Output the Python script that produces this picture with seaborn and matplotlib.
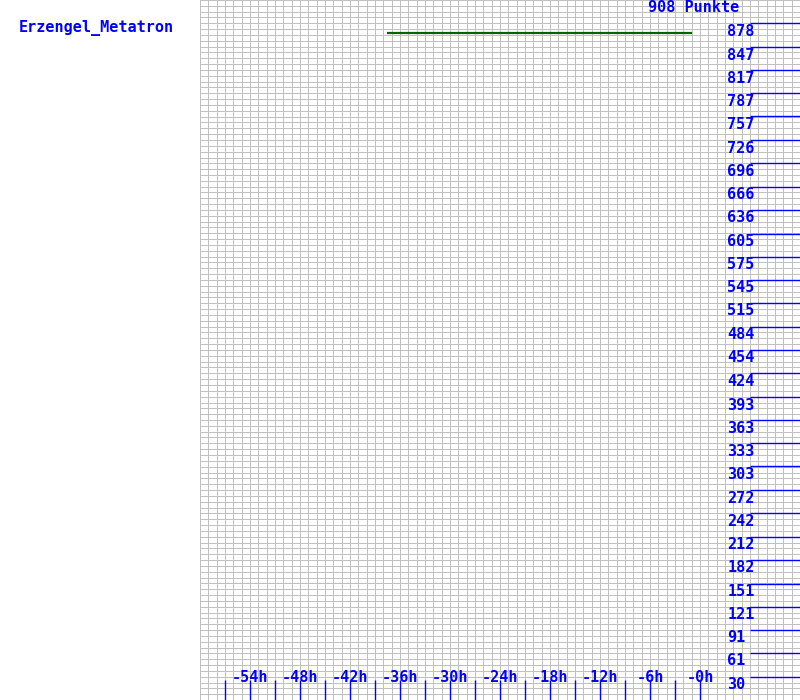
import numpy as np
import pandas as pd
import matplotlib
matplotlib.use("Agg")
import matplotlib.pyplot as plt
import seaborn as sns

# ---- data ----
player = "Erzengel_Metatron"
total_label = "908 Punkte"
max_points = 908
hours = [-37.55, -0.95]
points = [865, 865]
x_tick_hours = [-54, -48, -42, -36, -30, -24, -18, -12, -6, 0]
x_tick_labels = ["-54h", "-48h", "-42h", "-36h", "-30h", "-24h", "-18h", "-12h", "-6h", "-0h"]
x_minor_hours = [-57, -51, -45, -39, -33, -27, -21, -15, -9, -3]
y_tick_values = [30, 61, 91, 121, 151, 182, 212, 242, 272, 303, 333, 363, 393, 424, 454,
                 484, 515, 545, 575, 605, 636, 666, 696, 726, 757, 787, 817, 847, 878]
y_tick_labels = [str(v) for v in y_tick_values]

sns.set_style("white")
plt.rcParams["font.family"] = ["DejaVu Sans Mono", "DejaVu Sans"]

BLUE = "#0000ff"
GRID = "#c0c0c0"
FS = 10.9
FW = "bold"
px = 72 / 100.0

fig = plt.figure(figsize=(8, 7), dpi=100)
fig.patch.set_facecolor("white")
ax = fig.add_axes([0.25, 0.0, 0.75, 1.0])
ax.set_xlim(-60, 12)
ax.set_ylim(0, max_points)

ax.set_xticks(np.arange(-60, 13, 1))
ax.set_yticks(np.linspace(0, max_points, 121))
ax.grid(True, color=GRID, lw=1 * px, snap=True)
ax.tick_params(length=0, labelbottom=False, labelleft=False)
for s in ax.spines.values():
    s.set_visible(False)

df = pd.DataFrame({"h": hours, "p": points})
sns.lineplot(data=df, x="h", y="p", ax=ax, color="#006400", lw=2.2 * px,
             solid_capstyle="butt", legend=False)

# bottom blue tick lines
tick_top = 20 / 700 * max_points
ax.vlines(x_tick_hours + x_minor_hours, 0, tick_top, color=BLUE, lw=1.4 * px, snap=True)
for h, lab in zip(x_tick_hours, x_tick_labels):
    ax.annotate(lab, (h, 0), xytext=(0, 22), textcoords="offset pixels",
                ha="center", va="center", color=BLUE, fontsize=FS, fontweight=FW)

# right blue value lines
ax.hlines(y_tick_values, 6, 12, color=BLUE, lw=1.4 * px, snap=True)
for v, lab in zip(y_tick_values, y_tick_labels):
    ax.annotate(lab, (3.3, v), xytext=(0, -8), textcoords="offset pixels",
                ha="left", va="center", color=BLUE, fontsize=FS, fontweight=FW)

fig.text(694 / 800, 1 - 7 / 700, total_label, ha="center", va="center", color=BLUE, fontsize=FS, fontweight=FW)
fig.text(19 / 800, 1 - 28 / 700, player, ha="left", va="center", color=BLUE, fontsize=FS, fontweight=FW)

fig.savefig("out.png", dpi=100, facecolor="white")
